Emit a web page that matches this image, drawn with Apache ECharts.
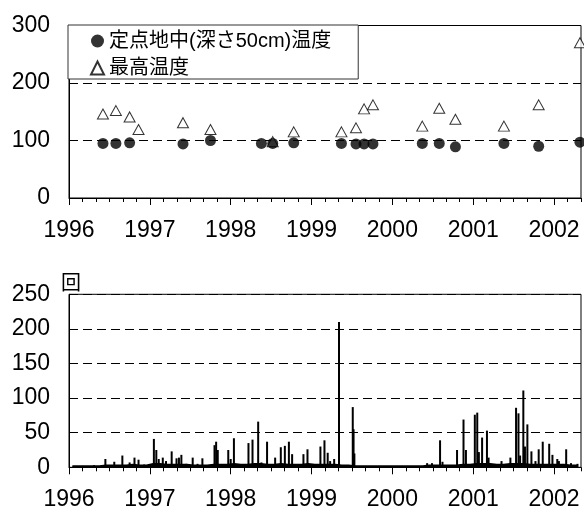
<!DOCTYPE html>
<html>
<head>
<meta charset="utf-8">
<script src="https://cdn.jsdelivr.net/npm/echarts@6/dist/echarts.min.js"></script>
<style>
  html, body { margin: 0; padding: 0; background: #fff; }
  #chart { width: 584px; height: 514px; }
</style>
</head>
<body>
<div id="chart"></div>
<script>
  // 調査日 (年の小数表示)
  const surveyDates = [1996.42, 1996.58, 1996.75, 1996.86, 1997.41, 1997.75, 1998.38, 1998.52, 1998.78,
    1999.37, 1999.55, 1999.65, 1999.76, 2000.37, 2000.58, 2000.78, 2001.38, 2001.81, 2002.32];
  const soilTemp = [95, 95, 96, null, 94, 100, 95, 95, 96,
    95, 94, 94, 94, 95, 95, 89, 95, 90, 97];
  const maxTemp = [146, 152, 141, 119, 131, 119, null, 98, 115,
    115, 122, 155, 162, 125, 156, 137, 125, 162, 270];

  // 下段: 目立つピーク
  const spikeDates = [1996.08, 1996.17, 1996.31, 1996.45, 1996.56, 1996.66, 1996.75, 1996.81, 1996.86, 1996.93,
    1997.05, 1997.08, 1997.11, 1997.16, 1997.20, 1997.27, 1997.33, 1997.36, 1997.39, 1997.45,
    1997.53, 1997.59, 1997.65, 1997.80, 1997.82, 1997.84, 1997.97, 1998.00, 1998.04, 1998.22,
    1998.27, 1998.34, 1998.38, 1998.45, 1998.55, 1998.62, 1998.67, 1998.72, 1998.76, 1998.90,
    1998.95, 1999.11, 1999.16, 1999.20, 1999.23, 1999.28, 1999.34, 1999.51, 1999.52, 1999.53,
    2000.43, 2000.49, 2000.59, 2000.62, 2000.80, 2000.88, 2000.91, 2001.02, 2001.05, 2001.07,
    2001.11, 2001.17, 2001.19, 2001.35, 2001.46, 2001.53, 2001.56, 2001.58, 2001.62, 2001.64,
    2001.67, 2001.72, 2001.77, 2001.81, 2001.86, 2001.94, 2001.98, 2002.04, 2002.06, 2002.15,
    2002.21, 2002.29];
  const spikeCounts = [2, 2, 3, 12, 8, 17, 7, 14, 11, 4,
    41, 25, 12, 14, 9, 23, 13, 14, 18, 5,
    14, 5, 13, 32, 37, 25, 25, 12, 42, 35,
    40, 66, 7, 37, 14, 29, 31, 37, 19, 19,
    26, 30, 39, 21, 9, 12, 210, 87, 55, 20,
    6, 6, 39, 8, 25, 69, 25, 76, 79, 22,
    43, 53, 14, 9, 14, 86, 78, 17, 111, 30,
    62, 23, 9, 26, 37, 34, 18, 12, 9, 26,
    6, 5];

  // 下段: 月ごとの低いレベル (1996年1月〜2002年4月)
  const baseCounts = [
    2, 2, 2, 2, 2, 3, 3, 3, 3, 4, 3, 3,
    5, 5, 4, 4, 4, 4, 3, 3, 3, 4, 4, 4,
    5, 4, 4, 5, 5, 4, 4, 5, 4, 4, 4, 5,
    4, 4, 4, 4, 3, 3, 2, 2, 2, 2, 2, 2,
    2, 2, 2, 2, 2, 3, 3, 3, 3, 3, 4, 4,
    5, 5, 5, 4, 4, 5, 5, 5, 4, 4, 4, 4,
    4, 4, 3, 3];

  const yearTicks = [1996, 1997, 1998, 1999, 2000, 2001, 2002];

  const xMin = 1996;
  const xMax = 2002 + 4 / 12;
  const minorTicks = [];
  for (let k = 0; k <= 38; k++) minorTicks.push(xMin + k / 6);

  const font = "'Liberation Sans', Arial, 'Noto Sans CJK JP', sans-serif";

  function xAxisPair(gi) {
    return [
      {
        type: "value", gridIndex: gi, min: xMin, max: xMax, position: "bottom",
        axisLine: { show: true, lineStyle: { color: "#000", width: 1 } },
        splitLine: { show: false },
        axisTick: { show: true, length: 4, customValues: minorTicks, lineStyle: { color: "#000" } },
        axisLabel: { show: false },
      },
      {
        type: "value", gridIndex: gi, min: xMin, max: xMax, position: "bottom",
        axisLine: { show: false },
        splitLine: { show: false },
        axisTick: { show: true, length: 7, customValues: yearTicks, lineStyle: { color: "#000" } },
        axisLabel: {
          show: true, customValues: yearTicks, margin: 21,
          formatter: (v) => String(Math.round(v)),
          fontSize: 23, color: "#000", fontFamily: font,
        },
      },
    ];
  }

  function yAxis(gi, max, interval, extra) {
    return Object.assign({
      type: "value", gridIndex: gi, min: 0, max: max, interval: interval,
      axisLine: { show: true, lineStyle: { color: "#000" } },
      axisTick: { show: false },
      axisLabel: { fontSize: 23, color: "#000", margin: 19, fontFamily: font },
      splitLine: { show: true, lineStyle: { color: "#000", type: [9, 5], width: 1 } },
    }, extra || {});
  }

  let myChart = echarts.init(document.getElementById("chart"));
  myChart.setOption({
    animation: false,
    backgroundColor: "#fff",
    grid: [
      { left: 69, right: 3, top: 25.5, bottom: 316, show: true, borderColor: "#000", borderWidth: 1 },
      { left: 69, right: 3, top: 294.3, bottom: 46.7, show: true, borderColor: "#000", borderWidth: 1 },
    ],
    xAxis: xAxisPair(0).concat(xAxisPair(1)),
    yAxis: [
      yAxis(0, 300, 100),
      yAxis(1, 250, 50, {
        name: "回", nameLocation: "end", nameGap: 2,
        nameTextStyle: { fontSize: 20, color: "#000", fontFamily: "'Noto Sans CJK JP'", padding: [0, 0, 0, 4] },
      }),
    ],
    legend: {
      orient: "vertical", left: 68, top: 25,
      itemWidth: 13, itemHeight: 13, itemGap: 7,
      padding: [6, 27, 1, 22],
      backgroundColor: "#fff", borderColor: "#333", borderWidth: 1, borderRadius: 0,
      textStyle: { fontSize: 20, lineHeight: 20, color: "#000", fontFamily: font },
      data: ["定点地中(深さ50cm)温度", "最高温度"],
    },
    series: [
      {
        name: "定点地中(深さ50cm)温度", type: "scatter", xAxisIndex: 1, yAxisIndex: 0, z: 4,
        symbol: "circle", symbolSize: 11,
        itemStyle: { color: "#000" },
        data: surveyDates.map((d, i) => [d, soilTemp[i]]).filter((p) => p[1] != null),
      },
      {
        name: "最高温度", type: "scatter", xAxisIndex: 1, yAxisIndex: 0, z: 3,
        symbol: "triangle", symbolSize: [11, 10],
        itemStyle: { color: "#fff", borderColor: "#000", borderWidth: 1 },
        data: surveyDates.map((d, i) => [d, maxTemp[i]]).filter((p) => p[1] != null),
      },
      {
        name: "base", type: "line", xAxisIndex: 2, yAxisIndex: 1,
        symbol: "none", lineStyle: { color: "#000", width: 1.5 },
        areaStyle: { color: "#000", opacity: 1 },
        data: baseCounts.map((v, i) => [xMin + i / 12 + 1 / 24, v]),
      },
      {
        name: "count", type: "bar", xAxisIndex: 3, yAxisIndex: 1,
        barWidth: 2, itemStyle: { color: "#000" },
        data: spikeDates.map((d, i) => [d, spikeCounts[i]]),
      },
    ],
  });
</script>
</body>
</html>
